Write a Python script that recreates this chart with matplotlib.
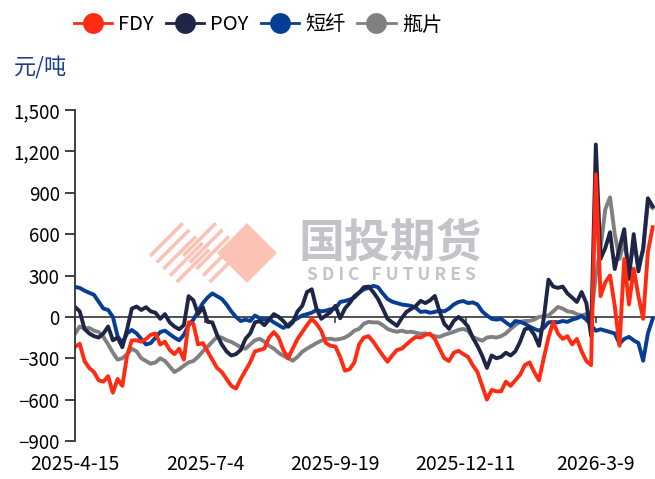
import matplotlib
matplotlib.use('Agg')
import matplotlib.pyplot as plt
from matplotlib.lines import Line2D
from matplotlib.patches import Polygon
from matplotlib.ticker import FuncFormatter

plt.rcParams['font.family'] = ['Noto Sans CJK SC', 'DejaVu Sans']

# trading-day index (every 2nd day)
xi = list(range(0, 245, 2))
tick_pos = [0, 55, 110, 165, 220]
tick_labels = ['2025-4-15', '2025-7-4', '2025-9-19', '2025-12-11', '2026-3-9']

fdy = [-217, -195, -320, -370, -400, -460, -470, -430, -550, -450,
       -500, -280, -170, -170, -180, -160, -130, -120, -200, -180,
       -240, -270, -231, -310, -40, -50, -200, -190, -250, -310,
       -370, -400, -450, -500, -520, -450, -390, -330, -250, -240,
       -230, -150, -110, -150, -240, -300, -230, -160, -110, -60,
       -14, -50, -100, -190, -210, -215, -290, -390, -380, -330,
       -200, -150, -140, -180, -231, -280, -325, -280, -240, -231,
       -200, -170, -145, -150, -130, -123, -160, -231, -300, -320,
       -260, -246, -270, -290, -350, -400, -500, -600, -530, -540,
       -540, -470, -500, -460, -420, -350, -330, -400, -460, -300,
       -150, -36, -120, -160, -140, -200, -160, -250, -320, -350,
       1034, 150, 250, 300, 80, -210, 420, 90, 350, 150,
       -14, 470, 650]

poy = [72, 40, -87, -120, -140, -150, -120, -70, -170, -150,
       -220, -90, 60, 75, 50, 70, 40, 30, -14, 20,
       -40, -70, -90, -60, 150, 120, 20, 70, -36, -40,
       -130, -200, -250, -280, -270, -240, -160, -120, -40, -30,
       -60, -20, 20, 0, -30, -72, -40, 40, 80, 180,
       200, 60, -14, 10, 36, 80, -10, 60, 100, 150,
       175, 215, 220, 180, 130, 60, -14, -40, -65, -10,
       36, 58, 80, 116, 100, 120, 152, 40, -50, -87,
       -30, 0, -30, -70, -150, -210, -282, -370, -280, -300,
       -290, -260, -280, -250, -181, -90, -80, -130, -210, -14,
       270, 220, 210, 220, 170, 140, 108, 180, 100, -137,
       1250, 420, 500, 614, 347, 500, 636, 275, 600, 330,
       500, 860, 802]

psf = [217, 210, 190, 175, 160, 110, 60, 50, 0, -140,
       -190, -120, -95, -120, -160, -200, -190, -150, -110, -100,
       -125, -150, -170, -130, -60, -20, 40, 100, 140, 170,
       150, 130, 90, 40, 0, -30, -20, -30, 10, -10,
       -20, -15, -40, -60, -80, -60, -30, -10, 10, 20,
       30, 50, 40, 45, 55, 60, 108, 115, 125, 140,
       175, 200, 210, 225, 215, 170, 130, 110, 100, 90,
       85, 80, 65, 36, 40, 30, 36, 45, 40, 60,
       90, 108, 115, 100, 105, 90, 40, 10, -14, -20,
       -14, -40, -65, -30, -36, -50, -70, -87, -100, -80,
       -40, -36, -40, -30, -36, -20, -10, 7, -20, -60,
       -101, -90, -100, -110, -120, -195, -160, -145, -170, -190,
       -318, -120, -14]

pet = [-123, -70, -85, -80, -100, -110, -145, -200, -260, -310,
       -300, -270, -231, -250, -300, -320, -340, -330, -300, -320,
       -360, -400, -380, -354, -330, -320, -290, -250, -217, -180,
       -145, -150, -170, -181, -200, -220, -231, -200, -170, -159,
       -180, -210, -230, -260, -282, -300, -318, -290, -253, -230,
       -210, -190, -173, -160, -159, -165, -160, -150, -130, -100,
       -87, -50, -36, -40, -40, -60, -87, -100, -108, -100,
       -110, -108, -115, -123, -120, -130, -140, -145, -130, -120,
       -108, -95, -87, -100, -145, -160, -173, -150, -145, -150,
       -140, -120, -87, -60, -36, -30, -29, -20, 0, 5,
       10, 40, 72, 60, 40, 36, 20, 10, 20, 0,
       300, 500, 780, 867, 600, 420, 550, 350, 520, 380,
       480, 820, 790]

c_fdy = '#FF2B12'
c_poy = '#1F2547'
c_psf = '#063E96'
c_pet = '#808080'

W, H = 655, 479
fig = plt.figure(figsize=(6.55, 4.79), dpi=100)
ax = fig.add_axes([75 / W, 38 / H, 580 / W, 331 / H])
ax.set_facecolor('none')
ax.set_zorder(2)


def fp(px, py):
    return (px / W, 1 - py / H)


# watermark logo
def diamond(cx, cy, h):
    return [fp(cx - h, cy), fp(cx, cy - h), fp(cx + h, cy), fp(cx, cy + h)]


fig.add_artist(Polygon(diamond(247, 253, 30), closed=True, color='#FBC2B6', lw=0, zorder=0))
for cx in [180, 213]:
    for s in [0.05, 0.27, 0.49, 0.71, 0.93]:
        x0, y0 = cx - 30 + s * 30, 253 + s * 30
        p0, p1 = fp(x0, y0), fp(x0 + 30, y0 - 30)
        fig.add_artist(Line2D([p0[0], p1[0]], [p0[1], p1[1]], color='#FBC2B6', lw=2.6, zorder=0))
fig.text(*fp(390, 244), '国投期货', fontsize=33, fontweight='bold', color='#C2C4CA',
         ha='center', va='center', zorder=0)
fig.text(*fp(391, 275), 'S D I C   F U T U R E S', fontsize=12.5, fontweight='bold', color='#C2C4CA',
         ha='center', va='center', zorder=0)

ax.plot(xi, pet, color=c_pet, lw=2.8, label='瓶片')
ax.plot(xi, psf, color=c_psf, lw=2.8, label='短纤')
ax.plot(xi, poy, color=c_poy, lw=2.8, label='POY')
ax.plot(xi, fdy, color=c_fdy, lw=2.8, label='FDY')
ax.axhline(0, color='#333333', lw=1.2, zorder=1)

ax.set_xlim(0, 245)
ax.set_ylim(-900, 1500)
ax.set_yticks(range(-900, 1501, 300))
ax.yaxis.set_major_formatter(FuncFormatter(lambda v, p: f'{v:,.0f}'.replace('-', '\u2212')))
ax.set_xticks(tick_pos)
ax.set_xticklabels(tick_labels)

for s in ['top', 'right']:
    ax.spines[s].set_visible(False)
ax.spines['bottom'].set_position(('data', 0))
ax.spines['bottom'].set_visible(False)
ax.spines['left'].set_color('#333333')
ax.spines['left'].set_linewidth(1.3)
ax.tick_params(axis='y', length=7, width=1.3, color='#333333', labelsize=13.5, pad=4)
ax.tick_params(axis='x', length=4, width=1.1, color='#333333', labelsize=14, pad=95)

fig.text(*fp(14, 68), '元/吨', fontsize=16, color='#1F3D8C', ha='left', va='center')

handles = [Line2D([], [], color=c, lw=2, marker='o', markersize=15, markeredgewidth=0)
           for c in [c_fdy, c_poy, c_psf, c_pet]]
fig.legend(handles, ['FDY', 'POY', '短纤', '瓶片'], ncol=4, loc='center',
           bbox_to_anchor=fp(258, 25), frameon=False, fontsize=14.5,
           handlelength=1.9, handletextpad=0.3, columnspacing=0.6)

plt.savefig('out.png', dpi=100)
